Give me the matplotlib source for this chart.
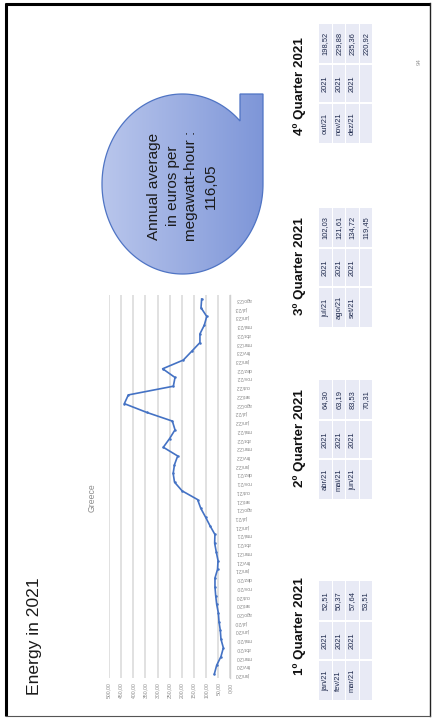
import numpy as np
import matplotlib
matplotlib.use("Agg")
import matplotlib.pyplot as plt
from matplotlib.path import Path
from matplotlib.patches import PathPatch, Rectangle
from matplotlib.colors import LinearSegmentedColormap

plt.rcParams['font.family'] = ['Liberation Sans', 'DejaVu Sans']

# ---- monthly day-ahead price, Greece (EUR/MWh), jan/2020 .. ago/2023 ----
months_pt = ["jan", "fev", "mar", "abr", "mai", "jun",
             "jul", "ago", "set", "out", "nov", "dez"]
years = [2020, 2021, 2022, 2023]
greece_price = [
    65.6, 56.0, 38.3, 28.5, 38.3, 41.0, 46.4, 49.1, 56.0, 60.1, 63.0, 63.0,      # 2020
    52.51, 50.37, 57.64, 64.30, 63.19, 83.53, 102.03, 121.61, 134.72, 198.52, 229.88, 235.36,  # 2021
    230.0, 216.8, 276.0, 250.0, 227.8, 238.8, 344.7, 436.8, 420.3, 234.7, 227.8, 278.7,  # 2022
    193.5, 159.1, 125.0, 125.0, 107.0, 97.0, 120.6, 117.9,                        # 2023
]
date_labels = [f"{m}/{str(y)[2:]}" for y in years for m in months_pt][:len(greece_price)]

value_ticks = list(range(0, 501, 50))
value_tick_labels = [f"{v},00" for v in value_ticks]

# ---- quarterly tables 2021 ----
quarter_titles = ["1º Quarter 2021", "2º Quarter 2021", "3º Quarter 2021", "4º Quarter 2021"]
quarter_months = [["jan/21", "fev/21", "mar/21"], ["abr/21", "mai/21", "jun/21"],
                  ["jul/21", "ago/21", "set/21"], ["out/21", "nov/21", "dez/21"]]
quarter_values = [["52,51", "50,37", "57,64"], ["64,30", "63,19", "83,53"],
                  ["102,03", "121,61", "134,72"], ["198,52", "229,88", "235,36"]]
quarter_avg = ["53,51", "70,31", "119,45", "220,92"]
annual_text = "Annual average\nin euros per\nmegawatt-hour :\n116,05"

W, H = 433, 722
fig = plt.figure(figsize=(W / 100, H / 100), dpi=100)
fig.patch.set_facecolor("white")

# page canvas in pixel units
pg = fig.add_axes([0, 0, 1, 1])
pg.set_xlim(0, W)
pg.set_ylim(H, 0)
pg.axis("off")

# slide frame
pg.plot([6, 6], [3, 716], color="black", lw=2.2, solid_capstyle="butt")
pg.plot([5, 430], [3.5, 3.5], color="black", lw=2.2, solid_capstyle="butt")
pg.plot([429.5, 429.5], [3, 716], color="#222222", lw=1.0)
pg.plot([6, 430], [715.5, 715.5], color="#555555", lw=0.8)

# slide title
pg.text(34, 636, "Energy in 2021", rotation=90, ha="center", va="center",
        fontsize=12.6, color="#1a1a1a")

# chart title
pg.text(92, 498, "Greece", rotation=90, ha="center", va="center",
        fontsize=6.2, color="#8a8a8a")

# ---- line chart (category axis runs upward, values grow to the left) ----
x_left, x_right = 109.0, 230.25
n = len(greece_price)
y_first, y_last = 674.0, 299.0
step = (y_first - y_last) / (n - 1)
y_bot = y_first + 0.5 * step
y_top = y_last - 0.5 * step
ax = fig.add_axes([x_left / W, (H - y_bot) / H, (x_right - x_left) / W, (y_bot - y_top) / H])
ax.set_facecolor("none")
idx = np.arange(n)
ax.plot(greece_price, idx, color="#4472c4", lw=1.2, marker="o", ms=1.8,
        markeredgewidth=0, zorder=3)
ax.set_xlim(500, 0)
ax.set_ylim(-0.5, n - 0.5)
ax.set_xticks(value_ticks)
ax.set_xticklabels(value_tick_labels, rotation=90, fontsize=3.7, color="#8c8c8c")
ax.grid(axis="x", color="#d9d9d9", lw=1.1)
ax.set_axisbelow(True)
ax.yaxis.tick_right()
ax.set_yticks(idx)
ax.set_yticklabels(date_labels, rotation=180, fontsize=3.7, color="#8c8c8c")
ax.tick_params(axis="both", length=0)
ax.tick_params(axis="x", pad=3)
ax.tick_params(axis="y", pad=4)
for s in ["top", "bottom", "left"]:
    ax.spines[s].set_visible(False)
ax.spines["right"].set_color("#d0d0d0")
ax.spines["right"].set_linewidth(1.0)

# ---- annual average bubble ----
cx, cy, rx, ry = 182.5, 184.0, 80.5, 90.0
t0 = np.degrees(np.arccos((240 - cx) / rx))
t = np.radians(np.linspace(t0, 360, 240))
pts = list(zip(cx + rx * np.cos(t), cy - ry * np.sin(t)))
pts += [(263, 184), (263, 94), (240, 94), pts[0]]
codes = [Path.MOVETO] + [Path.LINETO] * (len(pts) - 2) + [Path.CLOSEPOLY]
bubble = PathPatch(Path(pts, codes), facecolor="none", edgecolor="#4f74c4", lw=0.9, zorder=3)
pg.add_patch(bubble)
grad = np.linspace(0, 1, 256).reshape(1, -1)
cmap = LinearSegmentedColormap.from_list("bub", ["#b9c6ec", "#7e96d8"])
im = pg.imshow(grad, cmap=cmap, extent=[102, 263, 274, 94], aspect="auto", zorder=2)
im.set_clip_path(bubble)
pg.set_xlim(0, W)
pg.set_ylim(H, 0)
pg.text(182, 186, annual_text, rotation=90, ha="center", va="center",
        multialignment="center", fontsize=11, linespacing=1.45, color="#1a1a1a", zorder=4)

# ---- quarter tables ----
table_top = [581, 380, 208, 24]
title_mid = [626, 438, 266, 86]
col_x = [319, 332.5, 346, 359.5]
cw = 12.5
cell_fill = "#e8eaf5"
for q in range(4):
    ty = table_top[q]
    rows_y = [(ty, ty + 39), (ty + 41, ty + 78), (ty + 80, ty + 119)]
    pg.text(300, title_mid[q], quarter_titles[q], rotation=90, ha="center", va="center",
            fontsize=9.6, fontweight="bold", color="#111111")
    for r in range(4):
        x0 = col_x[r]
        for (y0, y1) in rows_y:
            pg.add_patch(Rectangle((x0, y0), cw, y1 - y0, facecolor=cell_fill,
                                   edgecolor="none", zorder=2))
        xc = x0 + cw / 2
        if r < 3:
            cells = [quarter_values[q][r], "2021", quarter_months[q][r]]
        else:
            cells = [quarter_avg[q], "", ""]
        for (y0, y1), txt in zip(rows_y, cells):
            if txt:
                pg.text(xc, (y0 + y1) / 2, txt, rotation=90, ha="center", va="center",
                        fontsize=5.4, color="#1f2a4d", zorder=3)

# page number
pg.text(419, 62, "94", rotation=90, ha="center", va="center", fontsize=4.5, color="#9a9a9a")

fig.savefig("out.png", dpi=100)
